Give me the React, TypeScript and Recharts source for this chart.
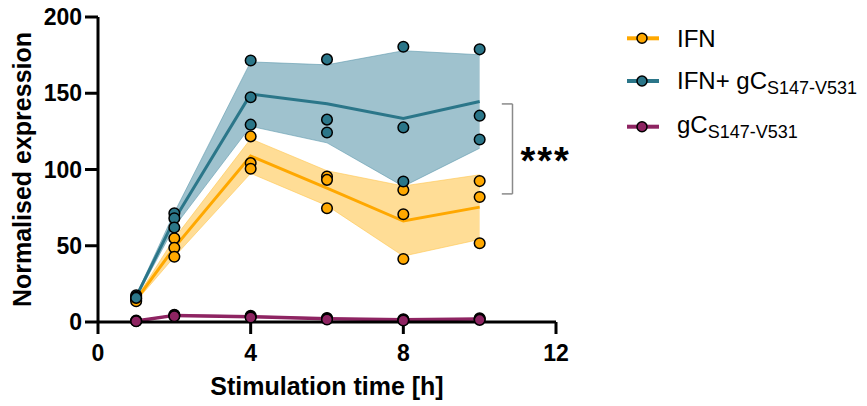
import React from 'react';
import {
  ComposedChart,
  Line,
  Area,
  Scatter,
  XAxis,
  YAxis,
  ReferenceLine,
} from 'recharts';

// Time points (h)
const times = [1, 2, 4, 6, 8, 10];

// Replicate values per time point
const ifnReps = [
  [15.4, 14.5, 13.6],
  [54.9, 48.7, 42.8],
  [121.7, 104.2, 100.5],
  [95.4, 93.2, 74.6],
  [86.6, 70.7, 41.3],
  [92.4, 82.0, 51.6],
];
const comboReps = [
  [17.5, 16.5, 15.8],
  [71.3, 68.0, 62.0],
  [171.5, 147.4, 129.4],
  [172.2, 132.7, 124.3],
  [180.5, 127.6, 92.1],
  [178.8, 135.3, 119.7],
];
const gcReps = [
  [0.9, 0.7, 0.5],
  [4.8, 4.4, 3.8],
  [4.0, 3.5, 3.0],
  [2.6, 2.2, 1.6],
  [1.8, 1.4, 1.0],
  [2.4, 2.0, 1.4],
];

const xTicks = [0, 4, 8, 12];
const yTicks = [0, 50, 100, 150, 200];

const seriesNames = ['IFN', 'IFN+ gC', 'gC'];
const seriesSub = ['', 'S147-V531', 'S147-V531'];
const colors = ['#FFA800', '#2B7689', '#8E2462'];
const bandColors = ['#FFC750', '#5F9AAD', '#A64A80'];

// significance bracket (y range in data units, x in hours)
const bracketY = [143, 84];
const bracketX = [10.58, 10.86];
const sigLabel = '***';

const mean = (a: number[]) => a.reduce((s, v) => s + v, 0) / a.length;
const sd = (a: number[]) => {
  const m = mean(a);
  return Math.sqrt(a.reduce((s, v) => s + (v - m) * (v - m), 0) / (a.length - 1));
};

const table = times.map((t, i) => {
  const row: any = { t };
  [ifnReps, comboReps, gcReps].forEach((reps, k) => {
    const m = mean(reps[i]);
    const s = sd(reps[i]);
    row['m' + k] = m;
    row['b' + k] = [m - s, m + s];
  });
  return row;
});

const points = [ifnReps, comboReps, gcReps].map((reps) =>
  times.flatMap((t, i) => reps[i].map((v) => ({ t, v })))
);

const FONT = "Arial, 'Liberation Sans', Helvetica, sans-serif";

const makeDot = (color: string) => (props: any) => {
  const { cx, cy } = props;
  if (cx == null || cy == null) return <g />;
  return <circle cx={cx} cy={cy} r={5.3} fill={color} stroke="#000" strokeWidth={1.5} />;
};

const legendRows = [
  { y: 38.3, base: 46.7 },
  { y: 81, base: 88.5 },
  { y: 126.7, base: 133 },
];

export default function App() {
  return (
    <div style={{ position: 'absolute', left: 0, top: 0, width: 867, height: 406, background: '#fff' }}>
      <ComposedChart
        width={867}
        height={406}
        data={table}
        margin={{ top: 17, right: 311, bottom: 0, left: 0 }}
        style={{ fontFamily: FONT }}
      >
        <XAxis
          dataKey="t"
          type="number"
          domain={[0, 12]}
          ticks={xTicks}
          allowDataOverflow
          height={84}
          axisLine={{ stroke: '#000', strokeWidth: 3 }}
          tickLine={{ stroke: '#000', strokeWidth: 3 }}
          tickSize={12}
          tickMargin={11}
          tick={{ fill: '#000', fontSize: 23, fontWeight: 700, fontFamily: FONT }}
          label={{
            value: 'Stimulation time [h]',
            position: 'center',
            dy: 22,
            fill: '#000',
            fontSize: 25,
            fontWeight: 700,
            fontFamily: FONT,
          }}
        />
        <YAxis
          type="number"
          domain={[0, 200]}
          ticks={yTicks}
          width={98}
          axisLine={{ stroke: '#000', strokeWidth: 3 }}
          tickLine={{ stroke: '#000', strokeWidth: 3 }}
          tickSize={13}
          tickMargin={3}
          tick={{ fill: '#000', fontSize: 23, fontWeight: 700, fontFamily: FONT }}
          label={{
            value: 'Normalised expression',
            angle: -90,
            position: 'center',
            dx: -27,
            fill: '#000',
            fontSize: 25,
            fontWeight: 700,
            fontFamily: FONT,
          }}
        />
        {[0, 1, 2].map((k) => (
          <Area
            key={'band' + k}
            dataKey={'b' + k}
            type="linear"
            fill={bandColors[k]}
            fillOpacity={0.6}
            stroke={bandColors[k]}
            strokeOpacity={0.6}
            strokeWidth={1}
            isAnimationActive={false}
            dot={false}
            activeDot={false}
          />
        ))}
        {[0, 1, 2].map((k) => (
          <Line
            key={'line' + k}
            dataKey={'m' + k}
            type="linear"
            stroke={colors[k]}
            strokeWidth={k === 2 ? 3.5 : 3}
            dot={false}
            activeDot={false}
            isAnimationActive={false}
          />
        ))}
        {[0, 1, 2].map((k) => (
          <Scatter
            key={'pts' + k}
            data={points[k]}
            dataKey="v"
            shape={makeDot(colors[k])}
            isAnimationActive={false}
          />
        ))}
        <ReferenceLine
          segment={[{ x: bracketX[0], y: bracketY[0] }, { x: bracketX[1], y: bracketY[0] }]}
          stroke="#8a8a8a"
          strokeWidth={1.5}
          ifOverflow="visible"
        />
        <ReferenceLine
          segment={[{ x: bracketX[0], y: bracketY[1] }, { x: bracketX[1], y: bracketY[1] }]}
          stroke="#8a8a8a"
          strokeWidth={1.5}
          ifOverflow="visible"
        />
        <ReferenceLine
          segment={[{ x: bracketX[1], y: bracketY[0] }, { x: bracketX[1], y: bracketY[1] }]}
          stroke="#8a8a8a"
          strokeWidth={1.5}
          ifOverflow="visible"
          label={{
            value: sigLabel,
            position: 'right',
            offset: 8,
            dy: 12,
            fill: '#000',
            fontSize: 38,
            fontWeight: 700,
            letterSpacing: 2,
            fontFamily: FONT,
          }}
        />
      </ComposedChart>
      <svg
        width={867}
        height={406}
        style={{ position: 'absolute', left: 0, top: 0, pointerEvents: 'none' }}
      >
        {legendRows.map((r, k) => (
          <g key={k}>
            <line x1={627} x2={659} y1={r.y} y2={r.y} stroke={colors[k]} strokeWidth={4} />
            <circle cx={642} cy={r.y} r={5} fill={colors[k]} stroke="#000" strokeWidth={1.5} />
            <text x={677} y={r.base} fontFamily={FONT} fontSize={24} fill="#000">
              {seriesNames[k]}
              {seriesSub[k] ? (
                <tspan fontSize={18} dy={5}>
                  {seriesSub[k]}
                </tspan>
              ) : null}
            </text>
          </g>
        ))}
      </svg>
    </div>
  );
}
